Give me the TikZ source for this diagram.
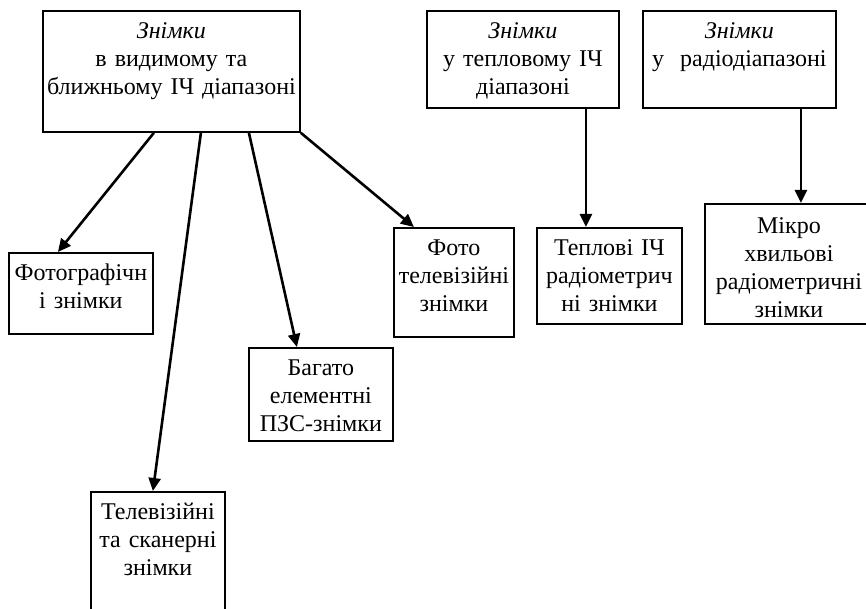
\documentclass[tikz,border=0pt]{standalone}
\usepackage{fontspec}
\setmainfont{Liberation Serif}
\usetikzlibrary{arrows.meta}

\begin{document}
\begin{tikzpicture}[x=0.5pt, y=-0.5pt, font=\fontsize{12}{13.9}\selectfont,
  box/.style={draw, line width=0.9pt, anchor=north west, align=center, inner sep=0pt, text height=14pt},
  link/.style={line width=1.3pt, -{Triangle[length=6.5pt, width=6pt]}}]

\useasboundingbox (0,0) rectangle (866,609);

% Top row: the three groups of images
\node[box, text width=128.5pt, text depth=46.5pt] (vis) at (42,10) {\textit{Знімки}\\в видимому та\\ближньому ІЧ діапазоні};
\node[box, text width=96pt, text depth=34.5pt] (thermal) at (426,10) {\textit{Знімки}\\у тепловому ІЧ\\діапазоні};
\node[box, text width=96.5pt, text depth=34.5pt] (radio) at (642,10) {\textit{Знімки}\\у~~радіодіапазоні};

% Kinds of images in the visible and near IR range
\node[box, text width=72pt, text depth=26.5pt] (foto) at (8,252) {Фотографічн\\і знімки};
\node[box, text width=67pt, text depth=61pt] (tv) at (90,491) {Телевізійні\\та сканерні\\знімки};
\node[box, text width=72pt, text depth=32.5pt] (bagato) at (248,347) {Багато\\елементні\\ПЗС-знімки};
\node[box, text width=60pt, text depth=40.5pt] (fototv) at (393,227) {Фото\\телевізійні\\знімки};

% Thermal IR and radio range
\node[box, text width=72.5pt, text depth=34pt] (teplo) at (536,227) {Теплові ІЧ\\радіометрич\\ні знімки};
\node[box, text width=84pt, text height=15pt, text depth=45pt] (mikro) at (704,203) {Мікро\\хвильові\\радіометричні\\знімки};

% Draw the arrows
\draw[link] ([xshift=-8.75pt]vis.south) -- ([xshift=-11.5pt]foto.north);
\draw[link] ([xshift=14.75pt]vis.south) -- ([xshift=-2.5pt]tv.north);
\draw[link] ([xshift=38.75pt]vis.south) -- ([xshift=-12pt]bagato.north);
\draw[link] (vis.south east) -- ([xshift=-20pt]fototv.north);
\draw[link] ([xshift=31.5pt]thermal.south) -- ([xshift=-11.75pt]teplo.north);
\draw[link] ([xshift=30.75pt]radio.south) -- ([xshift=6pt]mikro.north);

\end{tikzpicture}
\end{document}
